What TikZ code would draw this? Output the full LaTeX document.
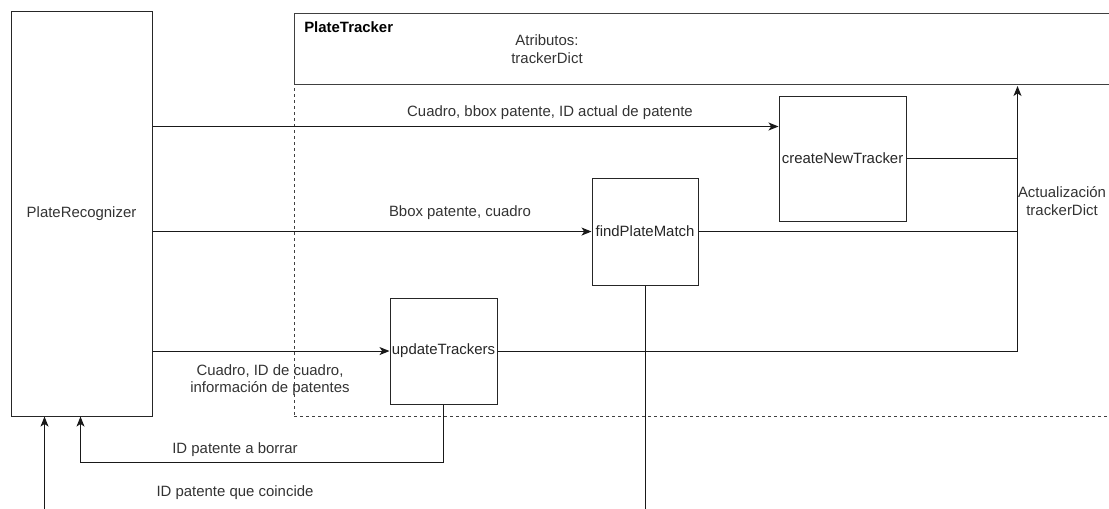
\documentclass[tikz,border=0pt]{standalone}
\usepackage{fontspec}
\setmainfont{Liberation Sans}
\usetikzlibrary{arrows.meta}
\begin{document}
\begin{tikzpicture}[x=0.75pt,y=-0.75pt,
  box/.style={draw=black!85, line width=0.8pt, anchor=north west, inner sep=0pt},
  conn/.style={draw=black!90, line width=0.8pt},
  arr/.style={conn, -{Stealth[length=7.5pt,width=6pt,inset=2pt]}},
  lbl/.style={font=\fontsize{11.2}{13}\selectfont, text=black!80, align=center, inner sep=0pt}
]
\useasboundingbox (0,0) rectangle (1109,508);
\clip (0,0) rectangle (1109,508);
% containers
\node[box, minimum width=105.75pt, minimum height=303.75pt] (pr) at (10.5,10.5) {};
\node[lbl] (prl) at (pr.center) {PlateRecognizer};
\node[box, draw=black!75, minimum width=627.75pt, minimum height=53.25pt] (pth) at (293.5,12.5) {};
\node[box, draw=black!75, dash pattern=on 2.25pt off 2.25pt, minimum width=627.75pt, minimum height=249pt] (ptb) at (293.5,83.5) {};
\node[lbl, anchor=west, font=\fontsize{11.2}{13}\selectfont\bfseries, text=black] (ptl) at (304,27) {PlateTracker};
\node[lbl] (attr) at (547,49) {Atributos:\\trackerDict};
% functions
\node[box, minimum width=95.25pt, minimum height=93.75pt] (cnt) at (778.5,95.5) {};
\node[lbl, text=black!85] at (cnt.center) {createNewTracker};
\node[box, minimum width=79.5pt, minimum height=80.25pt] (fpm) at (591.5,177.5) {};
\node[lbl, text=black!85] at (fpm.center) {findPlateMatch};
\node[box, minimum width=80.25pt, minimum height=79.5pt] (ut) at (389.5,297.5) {};
\node[lbl, text=black!85] at (ut.center) {updateTrackers};
% helper coordinates
\coordinate (y1) at (0,126.5);
\coordinate (col) at (1017.5,86);
\coordinate (b1) at (80.5,462.5);
\coordinate (b2) at (44.5,540);
% connectors
\draw[arr] (pr.east |- y1) -- (cnt.west |- y1);
\draw[arr] (pr.east |- fpm.west) -- (fpm.west);
\draw[arr] (pr.east |- ut.west) -- (ut.west);
\draw[conn] (cnt.east) -- (cnt.east -| col);
\draw[conn] (fpm.east) -- (fpm.east -| col);
\draw[arr] (ut.east) -- (ut.east -| col) -- (col);
\draw[arr] (ut.south) |- (b1) -- (b1 |- pr.south);
\draw[arr] (fpm.south) |- (b2) -- (b2 |- pr.south);
% labels
\node[lbl] (l1) at (550,113) {Cuadro, bbox patente, ID actual de patente};
\node[lbl] (l2) at (460,213) {Bbox patente, cuadro};
\node[lbl] (l3) at (270,380) {Cuadro, ID de cuadro,\\informaci\'on de patentes};
\node[lbl] (l4) at (1062,201) {Actualizaci\'on\\trackerDict};
\node[lbl] (l5) at (235,450) {ID patente a borrar};
\node[lbl] (l6) at (235,493) {ID patente que coincide};
\end{tikzpicture}
\end{document}
